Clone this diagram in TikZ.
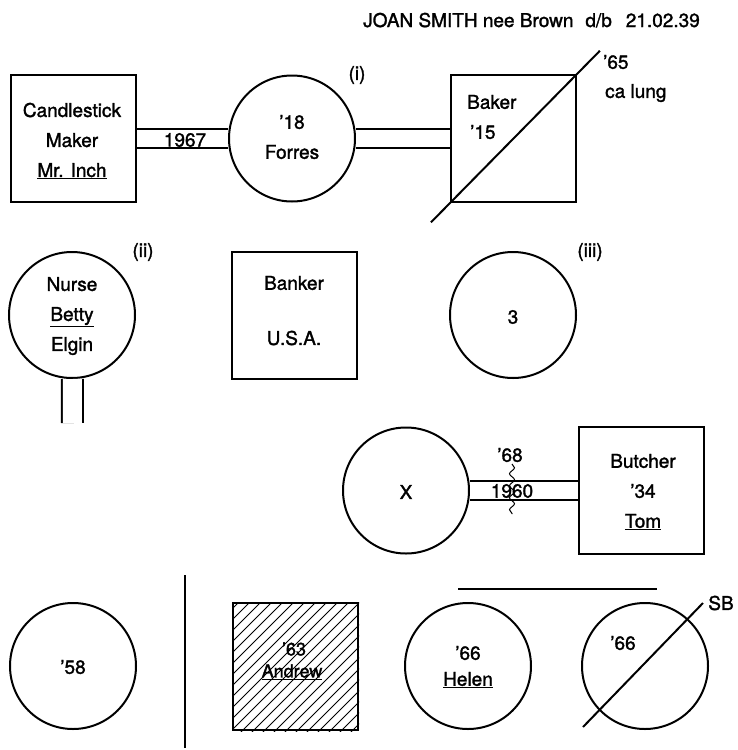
\documentclass[tikz,border=0pt]{standalone}
\usepackage{fontspec}
\setmainfont{TeX Gyre Heros}[FakeBold=1.6]
\usetikzlibrary{calc,decorations.pathmorphing}
\begin{document}
\begin{tikzpicture}[x=1pt,y=-1pt,
  lw/.style={line width=2pt},
  male/.style={draw, lw, rectangle, minimum width=125pt, minimum height=127pt, inner sep=0pt},
  fem/.style={draw, lw, circle, minimum size=126pt, inner sep=0pt},
  txt/.style={font=\fontsize{19}{30}\selectfont, align=center, inner sep=0pt},
  small/.style={font=\fontsize{18}{20}\selectfont, align=center, inner sep=0pt},
  marr/.style={draw, line width=2pt, double distance=17pt},
]
\useasboundingbox (0,0) rectangle (738,750);

% title
\node[txt, anchor=base east] (title) at (700,27) {JOAN SMITH nee Brown\hspace{12pt}d/b\hspace{14pt}21.02.39};

% row 1
\node[male] (cand) at (73.5,138.5) {};
\node[txt] (candt) at (72,141) {Candlestick\\Maker\\\underline{Mr. Inch}};
\node[fem] (forres) at (292,138.5) {};
\node[txt] (forrest) at (292,137) {'18\\Forres};
\node[txt] (i) at (357,75) {(i)};
\node[male] (baker) at (513.5,138.5) {};
\node[txt, anchor=west] (bakert) at (467,102) {Baker};
\node[txt, anchor=west] (baker15) at (470,132) {'15};
\draw[lw] ($(baker.south west)!-0.15!(baker.north east)$) -- ($(baker.south west)!1.18!(baker.north east)$);
\node[txt, anchor=west] (d65) at (603,62) {'65};
\node[txt, anchor=west] (calung) at (605,93) {ca lung};
\draw[marr] (cand) -- (forres);
\node[txt] (y1967) at (185,140) {1967};
\draw[marr] (forres) -- (baker);

% row 2
\node[fem] (nurse) at (72,315) {};
\node[txt] (nurset) at (72,316) {Nurse\\\underline{Betty}\\Elgin};
\coordinate (nurseend) at (72.5,423);
\draw[marr, double distance=19pt] (nurse) -- (nurseend);
\node[txt] (ii) at (143,252) {(ii)};
\node[male] (banker) at (294,315) {};
\node[txt] (bankert) at (294,283) {Banker};
\node[txt] (usa) at (294,338) {U.S.A.};
\node[fem] (three) at (513,315) {};
\node[txt] (threet) at (513,317) {3};
\node[txt] (iii) at (590,252) {(iii)};

% row 3
\node[fem] (x) at (406,490.5) {};
\node[txt] (xt) at (406,492) {X};
\node[male] (butcher) at (641.5,490.5) {};
\node[txt] (butchert) at (643,492) {Butcher\\'34\\\underline{Tom}};
\draw[marr] (x) -- (butcher);
\node[txt] (y1960) at (512,491) {1960};
\node[txt] (d68) at (510,455) {'68};
\coordinate (wt) at (512,464);
\coordinate (wb) at (512,514);
\draw[line width=1pt, decorate, decoration={snake, amplitude=2.5pt, segment length=12pt}] (wt) -- (wb);

% row 4
\node[fem] (c58) at (73,666) {};
\node[txt] (c58t) at (73,667) {'58};
\coordinate (vt) at (185,575);
\coordinate (vb) at (185,748);
\draw[lw] (vt) -- (vb);

\node[male] (andrew) at (295.5,666.5) {};
\begin{scope}
\clip (andrew.south west) rectangle (andrew.north east);
\foreach \k in {-14,...,14}
  \draw[line width=0.8pt] ($(andrew.center)+(\k*11,0)+(-90,90)$) -- ++(180,-180);
\end{scope}
\node[male] at (andrew) {};
\node[small] (andrew63) at (294,649) {'63};
\node[small] (andrewt) at (292,672) {\underline{Andrew}};

\coordinate (hl) at (458,589);
\coordinate (hr) at (657,589);
\draw[lw] (hl) -- (hr);
\node[fem] (helen) at (468,666) {};
\node[txt] (helen66) at (468,653) {'66};
\node[txt] (helent) at (468,680) {\underline{Helen}};

\node[fem] (sb) at (645,666) {};
\node[txt] (sb66) at (623,643) {'66};
\draw[lw] ($(sb.center)+(-62,61)$) -- ($(sb.center)+(58,-63)$);
\node[txt] (sbt) at (721,603) {SB};
\end{tikzpicture}
\end{document}
